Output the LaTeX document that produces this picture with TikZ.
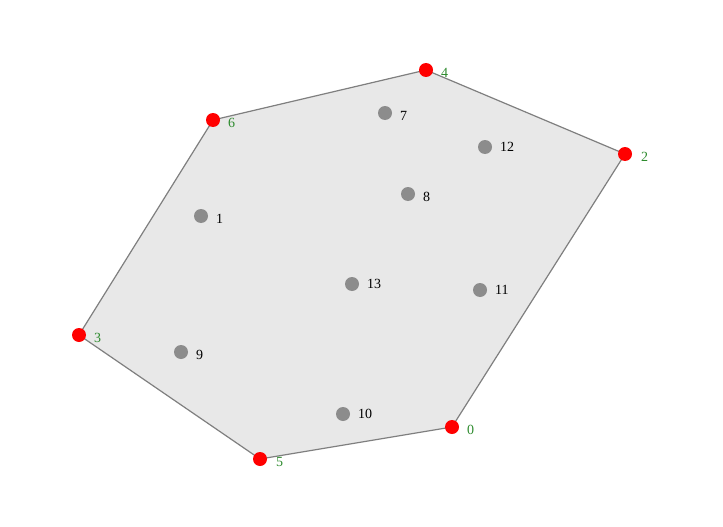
\documentclass[tikz,border=0pt]{standalone}
\usepackage{fontspec}
\setmainfont{Liberation Serif}
\definecolor{hullfill}{HTML}{E8E8E8}
\definecolor{hullline}{HTML}{7F7F7F}
\definecolor{ptgray}{HTML}{8C8C8C}
\definecolor{lblgreen}{HTML}{2E8B2E}
\begin{document}
\begin{tikzpicture}[x=1pt,y=-1pt,
  hullpt/.style={circle,fill=red,minimum size=14pt,inner sep=0pt},
  innerpt/.style={circle,fill=ptgray,minimum size=14pt,inner sep=0pt},
  hulllbl/.style={anchor=west,inner sep=0pt,text=lblgreen,font=\fontsize{14}{16}\selectfont},
  innerlbl/.style={anchor=west,inner sep=0pt,text=black,font=\fontsize{14}{16}\selectfont},
  hulledge/.style={draw=hullline,line width=1.2pt,fill=hullfill,line join=round}]
\useasboundingbox (0,0) rectangle (723,527);
\coordinate (c0) at (452,427);
\coordinate (c2) at (625,154);
\coordinate (c3) at (79,335);
\coordinate (c4) at (426,70);
\coordinate (c5) at (260,459);
\coordinate (c6) at (213,120);
\path[hulledge] (c4) -- (c2) -- (c0) -- (c5) -- (c3) -- (c6) -- cycle;
\node[hullpt] (p0) at (c0) {};
\node[hullpt] (p2) at (c2) {};
\node[hullpt] (p3) at (c3) {};
\node[hullpt] (p4) at (c4) {};
\node[hullpt] (p5) at (c5) {};
\node[hullpt] (p6) at (c6) {};
\node[hulllbl] (l0) at (467,430) {0};
\node[hulllbl] (l2) at (641,157) {2};
\node[hulllbl] (l3) at (94,338) {3};
\node[hulllbl] (l4) at (441,73) {4};
\node[hulllbl] (l5) at (276,462) {5};
\node[hulllbl] (l6) at (228,123) {6};
\node[innerpt] (p1) at (201,216) {};
\node[innerpt] (p7) at (385,113) {};
\node[innerpt] (p8) at (408,194) {};
\node[innerpt] (p9) at (181,352) {};
\node[innerpt] (p10) at (343,414) {};
\node[innerpt] (p11) at (480,290) {};
\node[innerpt] (p12) at (485,147) {};
\node[innerpt] (p13) at (352,284) {};
\node[innerlbl] (l1) at (216,219) {1};
\node[innerlbl] (l7) at (400,116) {7};
\node[innerlbl] (l8) at (423,197) {8};
\node[innerlbl] (l9) at (196,355) {9};
\node[innerlbl] (l10) at (358,414) {10};
\node[innerlbl] (l11) at (495,290) {11};
\node[innerlbl] (l12) at (500,147) {12};
\node[innerlbl] (l13) at (367,284) {13};
\end{tikzpicture}
\end{document}
